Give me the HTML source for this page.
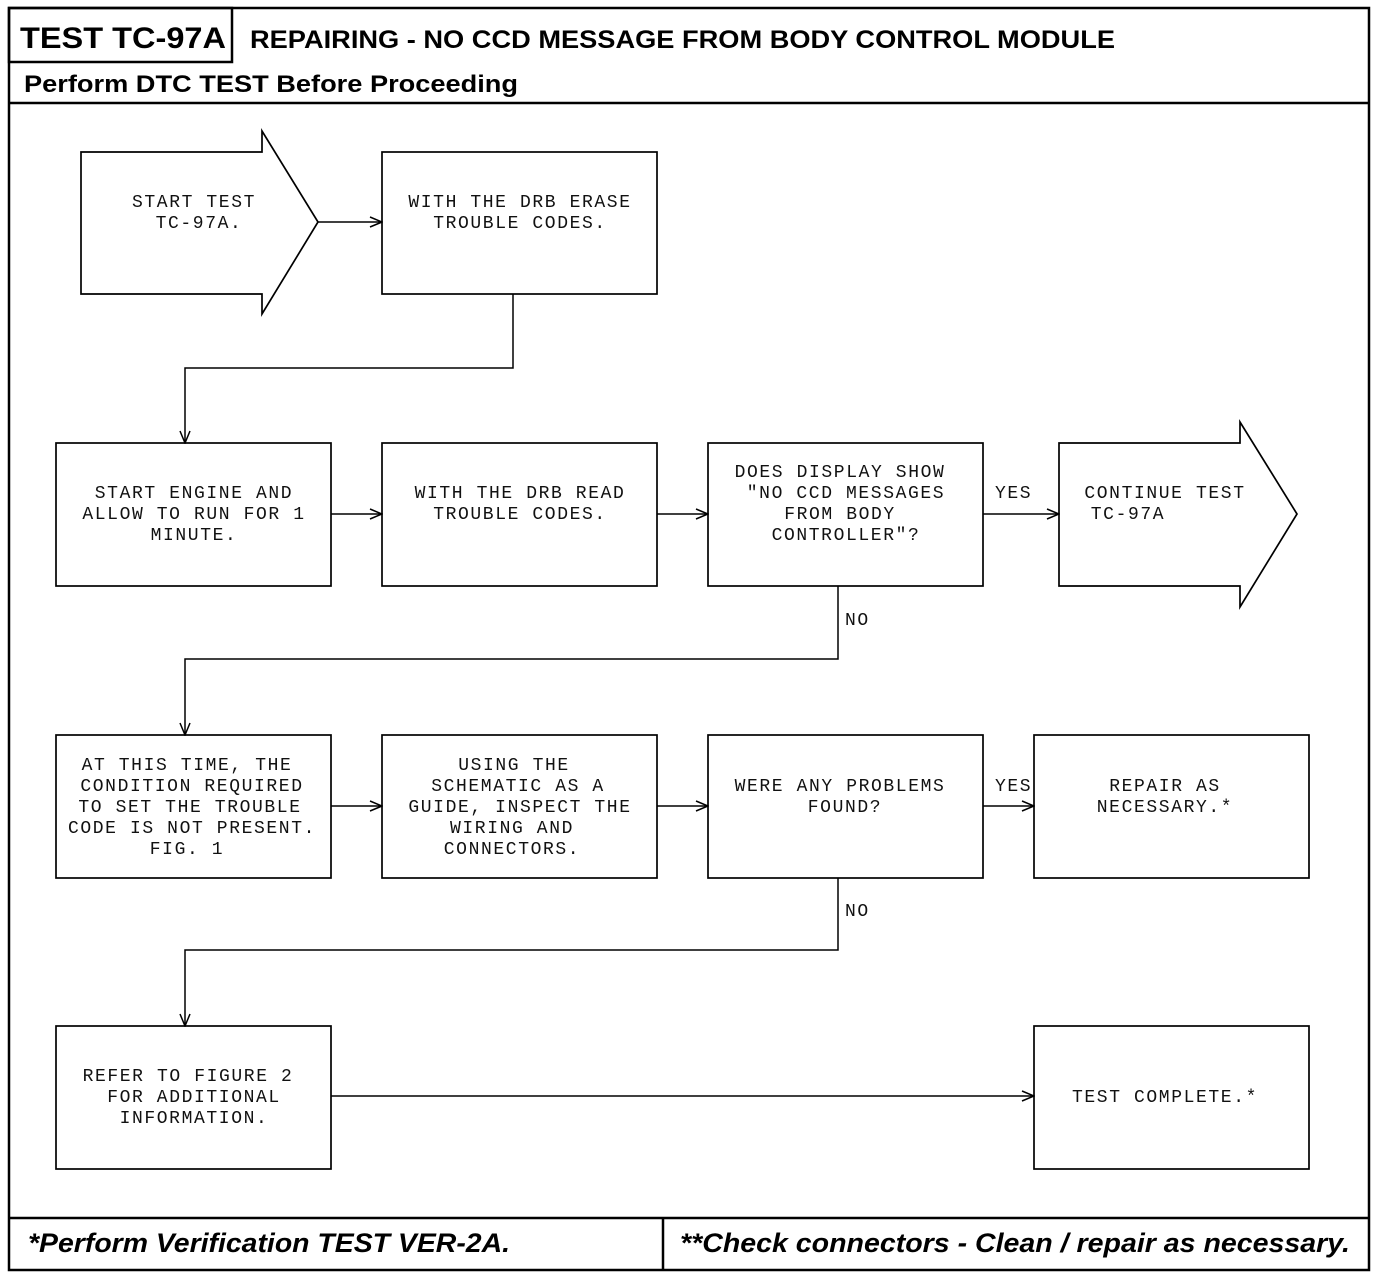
<!DOCTYPE html>
<html><head><meta charset="utf-8"><style>
html,body{margin:0;padding:0;background:#fff;}
svg{display:block;}
.m{font-family:"Liberation Mono",monospace;font-size:18px;letter-spacing:1.6px;fill:#111;}
.h{font-family:"Liberation Sans",sans-serif;font-weight:bold;fill:#000;}
</style></head><body>
<svg width="1376" height="1278" viewBox="0 0 1376 1278" xmlns="http://www.w3.org/2000/svg">
<defs><marker id="a" markerWidth="14" markerHeight="12" refX="13" refY="6" orient="auto" markerUnits="userSpaceOnUse"><path d="M1,1 L13,6 L1,11" fill="none" stroke="#000" stroke-width="1.5"/></marker></defs>
<g fill="none" stroke="#000" stroke-width="2.5">
<rect x="9" y="8" width="1360" height="1262"/>
<rect x="9" y="8" width="223" height="54"/>
<line x1="9" y1="103" x2="1369" y2="103"/>
<line x1="9" y1="1218" x2="1369" y2="1218"/>
<line x1="663" y1="1218" x2="663" y2="1270"/>
</g>
<text class="h" x="20" y="48" font-size="30" textLength="206" lengthAdjust="spacingAndGlyphs">TEST TC-97A</text>
<text class="h" x="250" y="48" font-size="25" textLength="865" lengthAdjust="spacingAndGlyphs">REPAIRING - NO CCD MESSAGE FROM BODY CONTROL MODULE</text>
<text class="h" x="24" y="92" font-size="24" textLength="494" lengthAdjust="spacingAndGlyphs">Perform DTC TEST Before Proceeding</text>
<text class="h" x="28" y="1252" font-size="27" font-style="italic" textLength="482" lengthAdjust="spacingAndGlyphs">*Perform Verification TEST VER-2A.</text>
<text class="h" x="680" y="1252" font-size="27" font-style="italic" textLength="670" lengthAdjust="spacingAndGlyphs">**Check connectors - Clean / repair as necessary.</text>

<g fill="#fff" stroke="#000" stroke-width="1.7">
<polygon points="81,152 262,152 262,131 318,222 262,314 262,294 81,294"/>
<rect x="382" y="152" width="275" height="142"/>
<rect x="56" y="443" width="275" height="143"/>
<rect x="382" y="443" width="275" height="143"/>
<rect x="708" y="443" width="275" height="143"/>
<polygon points="1059,443 1240,443 1240,422 1297,514 1240,607 1240,586 1059,586"/>
<rect x="56" y="735" width="275" height="143"/>
<rect x="382" y="735" width="275" height="143"/>
<rect x="708" y="735" width="275" height="143"/>
<rect x="1034" y="735" width="275" height="143"/>
<rect x="56" y="1026" width="275" height="143"/>
<rect x="1034" y="1026" width="275" height="143"/>
</g>
<g fill="none" stroke="#000" stroke-width="1.5" marker-end="url(#a)">
<line x1="318" y1="222" x2="382" y2="222"/>
<polyline points="513,294 513,368 185,368 185,443"/>
<line x1="331" y1="514" x2="382" y2="514"/>
<line x1="657" y1="514" x2="708" y2="514"/>
<line x1="983" y1="514" x2="1059" y2="514"/>
<polyline points="838,586 838,659 185,659 185,735"/>
<line x1="331" y1="806" x2="382" y2="806"/>
<line x1="657" y1="806" x2="708" y2="806"/>
<line x1="983" y1="806" x2="1034" y2="806"/>
<polyline points="838,878 838,950 185,950 185,1026"/>
<line x1="331" y1="1096" x2="1034" y2="1096"/>
</g>
<g class="m" text-anchor="middle">
<text x="194" y="207">START TEST</text><text x="199" y="228">TC-97A.</text>
<text x="520" y="207">WITH THE DRB ERASE</text><text x="520" y="228">TROUBLE CODES.</text>
<text x="194" y="498">START ENGINE AND</text><text x="194" y="519">ALLOW TO RUN FOR 1</text><text x="194" y="540">MINUTE.</text>
<text x="520" y="498">WITH THE DRB READ</text><text x="520" y="519">TROUBLE CODES.</text>
<text x="840" y="477">DOES DISPLAY SHOW</text><text x="846" y="498">"NO CCD MESSAGES</text><text x="840" y="519">FROM BODY</text><text x="846" y="540">CONTROLLER"?</text>
<text x="1165" y="498">CONTINUE TEST</text><text x="1128" y="519">TC-97A</text>
<text x="187" y="770">AT THIS TIME, THE</text><text x="192" y="791">CONDITION REQUIRED</text><text x="190" y="812">TO SET THE TROUBLE</text><text x="192" y="833">CODE IS NOT PRESENT.</text><text x="187" y="854">FIG. 1</text>
<text x="514" y="770">USING THE</text><text x="518" y="791">SCHEMATIC AS A</text><text x="520" y="812">GUIDE, INSPECT THE</text><text x="512" y="833">WIRING AND</text><text x="512" y="854">CONNECTORS.</text>
<text x="840" y="791">WERE ANY PROBLEMS</text><text x="845" y="812">FOUND?</text>
<text x="1165" y="791">REPAIR AS</text><text x="1165" y="812">NECESSARY.*</text>
<text x="188" y="1081">REFER TO FIGURE 2</text><text x="194" y="1102">FOR ADDITIONAL</text><text x="194" y="1123">INFORMATION.</text>
<text x="1165" y="1102">TEST COMPLETE.*</text>
</g>
<g class="m">
<text x="995" y="498">YES</text><text x="995" y="791">YES</text>
<text x="845" y="625">NO</text><text x="845" y="916">NO</text>
</g>
</svg>
</body></html>
